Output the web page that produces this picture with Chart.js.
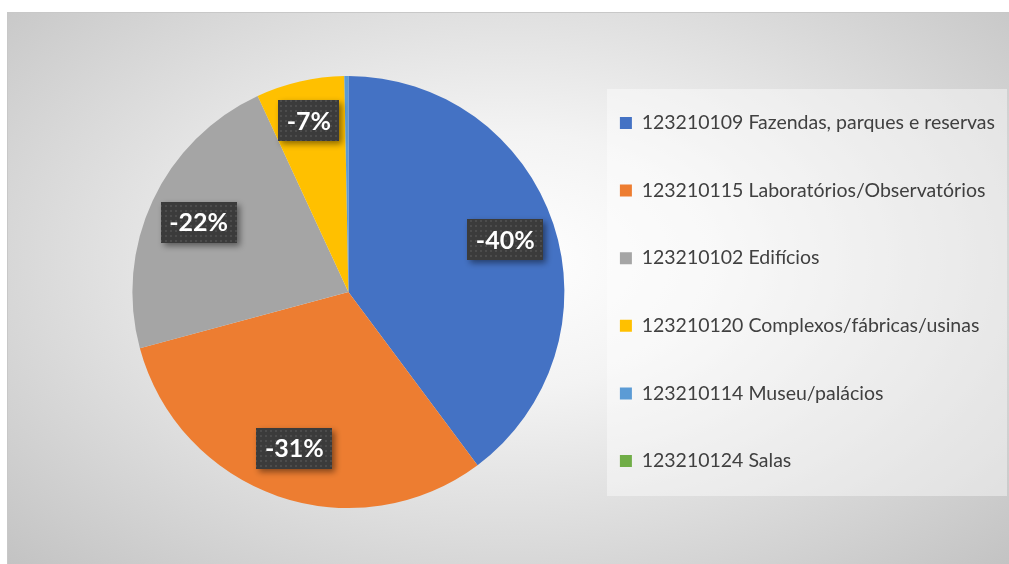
<!DOCTYPE html>
<html>
<head>
<meta charset="utf-8">
<script src="https://cdn.jsdelivr.net/npm/chart.js@4/dist/chart.umd.min.js"></script>
<style>
  html, body { margin: 0; padding: 0; background: #fff; width: 1009px; height: 564px; overflow: hidden; }
  #frame {
    position: absolute; left: 7px; top: 12px; width: 1002px; height: 552px;
    border-top: 1px solid #c8c8c8; border-left: 1px solid #c8c8c8; box-sizing: border-box;
    background: radial-gradient(ellipse farthest-corner at 50% 45%, #ffffff 0%, #f3f3f3 30%, #d9d9d9 68%, #c3c3c3 100%);
  }
  #wrap { position: absolute; left: 0; top: 0; width: 1002px; height: 552px; }
</style>
</head>
<body>
<div id="frame"><div id="wrap"><canvas id="chart"></canvas></div></div>
<script>
(function () {
    "use strict";

    // categorias e valores (variação, %)
    const categories = [
        "123210109 Fazendas, parques e reservas",
        "123210115 Laboratórios/Observatórios",
        "123210102 Edifícios",
        "123210120 Complexos/fábricas/usinas",
        "123210114 Museu/palácios",
        "123210124 Salas",
    ];
    const values = [-39.8, -31.0, -22.3, -6.6, -0.3, 0];
    const colors = ["#4472C4", "#ED7D31", "#A5A5A5", "#FFC000", "#5B9BD5", "#70AD47"];

    const FONT = "Lato, 'Open Sans', sans-serif";
    const LEGEND_SIZE = 19.5;

    function dotPattern(ctx) {
        const tile = document.createElement("canvas");
        tile.width = 5; tile.height = 5;
        const t = tile.getContext("2d");
        t.fillStyle = "#3b3b3b";
        t.fillRect(0, 0, 5, 5);
        t.fillStyle = "#4c4c4c";
        t.fillRect(2, 2, 2, 2);
        return ctx.createPattern(tile, "repeat");
    }

    // fundo claro atrás da legenda
    const legendBg = {
        id: "legendBg",
        beforeDraw(chart) {
            const { ctx } = chart;
            ctx.save();
            ctx.fillStyle = "rgba(255,255,255,0.42)";
            ctx.fillRect(599, 76, 400, 407);
            ctx.restore();
        },
    };

    // rótulos com caixa escura pontilhada e sombra
    const pctLabels = {
        id: "pctLabels",
        afterDatasetsDraw(chart) {
            const { ctx } = chart;
            const meta = chart.getDatasetMeta(0);
            const data = chart.data.datasets[0].data;
            const total = data.reduce((s, v) => s + Math.abs(v), 0);
            const pattern = dotPattern(ctx);
            ctx.save();
            ctx.font = "bold 25px " + FONT;
            ctx.textAlign = "center";
            ctx.textBaseline = "middle";
            meta.data.forEach((arc, i) => {
                const share = Math.abs(data[i]) / total;
                const pct = Math.round(data[i] / total * 100);
                if (Math.abs(pct) < 1) { return; }
                const { x, y, startAngle, endAngle, outerRadius } = arc.getProps(["x", "y", "startAngle", "endAngle", "outerRadius"], true);
                const mid = (startAngle + endAngle) / 2;
                const f = share < 0.1 ? 0.815 : 0.765;
                const cx = x + Math.cos(mid) * outerRadius * f;
                const cy = y + Math.sin(mid) * outerRadius * f;
                const text = pct + "%";
                const w = ctx.measureText(text).width + 17;
                const h = 41;
                ctx.save();
                ctx.shadowColor = "rgba(0,0,0,0.45)";
                ctx.shadowBlur = 6;
                ctx.shadowOffsetX = 3;
                ctx.shadowOffsetY = 3;
                ctx.fillStyle = pattern;
                ctx.fillRect(Math.round(cx - w / 2), Math.round(cy - h / 2), Math.round(w), h);
                ctx.restore();
                ctx.fillStyle = "#ffffff";
                ctx.fillText(text, cx, cy + 1);
            });
            ctx.restore();
        },
    };

    new Chart(document.getElementById("chart"), {
        type: "pie",
        data: {
            labels: categories,
            datasets: [{
                data: values,
                backgroundColor: colors,
                borderWidth: 0,
                radius: 216,
            }],
        },
        options: {
            responsive: true,
            maintainAspectRatio: false,
            animation: false,
            layout: { padding: { left: 117, right: 5, top: 6, bottom: 0 } },
            plugins: {
                tooltip: { enabled: false },
                legend: {
                    position: "right",
                    labels: {
                        boxWidth: 12,
                        boxHeight: 12,
                        padding: 67.6 - LEGEND_SIZE,
                        color: "#404040",
                        font: { family: FONT, size: LEGEND_SIZE },
                    },
                },
            },
        },
        plugins: [legendBg, pctLabels],
    });
})();
</script>
</body>
</html>
